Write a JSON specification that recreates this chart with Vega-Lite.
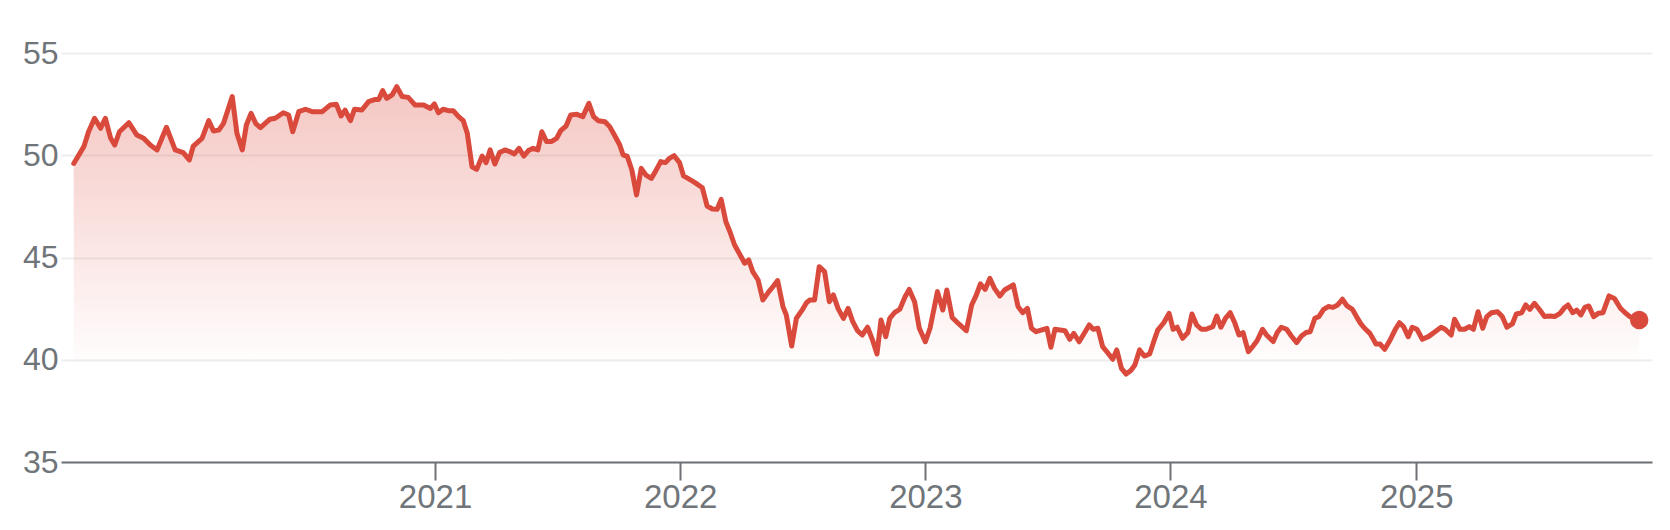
{
  "$schema": "https://vega.github.io/schema/vega-lite/v6.json",
  "width": 1591,
  "height": 409,
  "autosize": {"type": "none"},
  "padding": {"left": 61, "top": 53, "right": 18, "bottom": 68},
  "background": "white",
  "config": {
    "view": {"stroke": null},
    "axis": {"labelFont": "Liberation Sans, Arial, sans-serif", "labelFontSize": 32, "labelColor": "#70757a"}
  },
  "data": {
    "values": [
      {"date": "2019-07-13", "price": 49.6},
      {"date": "2019-07-28", "price": 50.42},
      {"date": "2019-08-04", "price": 51.15},
      {"date": "2019-08-13", "price": 51.81},
      {"date": "2019-08-22", "price": 51.32},
      {"date": "2019-08-29", "price": 51.81},
      {"date": "2019-09-06", "price": 50.83},
      {"date": "2019-09-12", "price": 50.5},
      {"date": "2019-09-19", "price": 51.15},
      {"date": "2019-10-03", "price": 51.59},
      {"date": "2019-10-15", "price": 50.99},
      {"date": "2019-10-25", "price": 50.83},
      {"date": "2019-11-04", "price": 50.5},
      {"date": "2019-11-14", "price": 50.26},
      {"date": "2019-11-28", "price": 51.37},
      {"date": "2019-12-11", "price": 50.26},
      {"date": "2019-12-23", "price": 50.13},
      {"date": "2020-01-01", "price": 49.77},
      {"date": "2020-01-07", "price": 50.45},
      {"date": "2020-01-20", "price": 50.83},
      {"date": "2020-01-30", "price": 51.69},
      {"date": "2020-02-06", "price": 51.19},
      {"date": "2020-02-14", "price": 51.23},
      {"date": "2020-02-21", "price": 51.56},
      {"date": "2020-03-05", "price": 52.87},
      {"date": "2020-03-12", "price": 51.07},
      {"date": "2020-03-20", "price": 50.26},
      {"date": "2020-03-26", "price": 51.48},
      {"date": "2020-04-02", "price": 52.05},
      {"date": "2020-04-09", "price": 51.55},
      {"date": "2020-04-16", "price": 51.35},
      {"date": "2020-04-23", "price": 51.56},
      {"date": "2020-04-30", "price": 51.76},
      {"date": "2020-05-08", "price": 51.81},
      {"date": "2020-05-20", "price": 52.08},
      {"date": "2020-05-28", "price": 51.97},
      {"date": "2020-06-03", "price": 51.15},
      {"date": "2020-06-12", "price": 52.13},
      {"date": "2020-06-22", "price": 52.25},
      {"date": "2020-07-02", "price": 52.13},
      {"date": "2020-07-17", "price": 52.13},
      {"date": "2020-07-29", "price": 52.46},
      {"date": "2020-08-07", "price": 52.49},
      {"date": "2020-08-14", "price": 51.92},
      {"date": "2020-08-20", "price": 52.21},
      {"date": "2020-08-28", "price": 51.69},
      {"date": "2020-09-03", "price": 52.25},
      {"date": "2020-09-14", "price": 52.21},
      {"date": "2020-09-24", "price": 52.62},
      {"date": "2020-10-04", "price": 52.73},
      {"date": "2020-10-09", "price": 52.73},
      {"date": "2020-10-15", "price": 53.16},
      {"date": "2020-10-21", "price": 52.78},
      {"date": "2020-10-29", "price": 52.95},
      {"date": "2020-11-05", "price": 53.35},
      {"date": "2020-11-13", "price": 52.87},
      {"date": "2020-11-22", "price": 52.83},
      {"date": "2020-12-02", "price": 52.46},
      {"date": "2020-12-15", "price": 52.46},
      {"date": "2020-12-25", "price": 52.29},
      {"date": "2020-12-31", "price": 52.51},
      {"date": "2021-01-06", "price": 52.08},
      {"date": "2021-01-13", "price": 52.25},
      {"date": "2021-01-21", "price": 52.18},
      {"date": "2021-01-28", "price": 52.18},
      {"date": "2021-02-05", "price": 51.89},
      {"date": "2021-02-12", "price": 51.69},
      {"date": "2021-02-18", "price": 51.07},
      {"date": "2021-02-25", "price": 49.44},
      {"date": "2021-03-04", "price": 49.31},
      {"date": "2021-03-12", "price": 49.96},
      {"date": "2021-03-18", "price": 49.64},
      {"date": "2021-03-24", "price": 50.26},
      {"date": "2021-03-31", "price": 49.57},
      {"date": "2021-04-07", "price": 50.13},
      {"date": "2021-04-15", "price": 50.26},
      {"date": "2021-04-22", "price": 50.18},
      {"date": "2021-04-29", "price": 50.06},
      {"date": "2021-05-06", "price": 50.34},
      {"date": "2021-05-13", "price": 49.96},
      {"date": "2021-05-20", "price": 50.23},
      {"date": "2021-05-27", "price": 50.34},
      {"date": "2021-06-03", "price": 50.26},
      {"date": "2021-06-09", "price": 51.15},
      {"date": "2021-06-16", "price": 50.67},
      {"date": "2021-06-23", "price": 50.67},
      {"date": "2021-07-01", "price": 50.83},
      {"date": "2021-07-07", "price": 51.2},
      {"date": "2021-07-15", "price": 51.43},
      {"date": "2021-07-22", "price": 51.97},
      {"date": "2021-07-31", "price": 52.0},
      {"date": "2021-08-09", "price": 51.89},
      {"date": "2021-08-18", "price": 52.54},
      {"date": "2021-08-25", "price": 51.89},
      {"date": "2021-09-01", "price": 51.69},
      {"date": "2021-09-11", "price": 51.64},
      {"date": "2021-09-18", "price": 51.4},
      {"date": "2021-09-25", "price": 50.99},
      {"date": "2021-10-03", "price": 50.5},
      {"date": "2021-10-08", "price": 50.01},
      {"date": "2021-10-14", "price": 49.96},
      {"date": "2021-10-21", "price": 49.28},
      {"date": "2021-10-28", "price": 48.06},
      {"date": "2021-11-04", "price": 49.36},
      {"date": "2021-11-11", "price": 49.03},
      {"date": "2021-11-19", "price": 48.87},
      {"date": "2021-11-25", "price": 49.2},
      {"date": "2021-12-03", "price": 49.69},
      {"date": "2021-12-10", "price": 49.64},
      {"date": "2021-12-16", "price": 49.85},
      {"date": "2021-12-23", "price": 49.98},
      {"date": "2021-12-31", "price": 49.64},
      {"date": "2022-01-06", "price": 48.99},
      {"date": "2022-01-15", "price": 48.82},
      {"date": "2022-01-23", "price": 48.66},
      {"date": "2022-02-03", "price": 48.41},
      {"date": "2022-02-10", "price": 47.52},
      {"date": "2022-02-18", "price": 47.37},
      {"date": "2022-02-25", "price": 47.36},
      {"date": "2022-03-03", "price": 47.84},
      {"date": "2022-03-10", "price": 46.75},
      {"date": "2022-03-16", "price": 46.26},
      {"date": "2022-03-23", "price": 45.61},
      {"date": "2022-03-30", "price": 45.2},
      {"date": "2022-04-07", "price": 44.72},
      {"date": "2022-04-13", "price": 44.88},
      {"date": "2022-04-19", "price": 44.31},
      {"date": "2022-04-27", "price": 43.9},
      {"date": "2022-05-04", "price": 42.92},
      {"date": "2022-05-13", "price": 43.33},
      {"date": "2022-05-19", "price": 43.57},
      {"date": "2022-05-26", "price": 43.87},
      {"date": "2022-06-03", "price": 42.6},
      {"date": "2022-06-08", "price": 42.19},
      {"date": "2022-06-16", "price": 40.67},
      {"date": "2022-06-23", "price": 42.03},
      {"date": "2022-07-01", "price": 42.4},
      {"date": "2022-07-08", "price": 42.79},
      {"date": "2022-07-13", "price": 42.92},
      {"date": "2022-07-20", "price": 42.92},
      {"date": "2022-07-27", "price": 44.55},
      {"date": "2022-08-04", "price": 44.31},
      {"date": "2022-08-11", "price": 42.84},
      {"date": "2022-08-17", "price": 43.17},
      {"date": "2022-08-24", "price": 42.51},
      {"date": "2022-09-01", "price": 42.02},
      {"date": "2022-09-08", "price": 42.51},
      {"date": "2022-09-15", "price": 41.86},
      {"date": "2022-09-22", "price": 41.42},
      {"date": "2022-09-29", "price": 41.21},
      {"date": "2022-10-07", "price": 41.59},
      {"date": "2022-10-14", "price": 41.0},
      {"date": "2022-10-21", "price": 40.28},
      {"date": "2022-10-27", "price": 41.94},
      {"date": "2022-11-03", "price": 41.13},
      {"date": "2022-11-09", "price": 42.02},
      {"date": "2022-11-16", "price": 42.3},
      {"date": "2022-11-24", "price": 42.47},
      {"date": "2022-12-02", "price": 43.09},
      {"date": "2022-12-08", "price": 43.44},
      {"date": "2022-12-16", "price": 42.84},
      {"date": "2022-12-23", "price": 41.54},
      {"date": "2023-01-01", "price": 40.88},
      {"date": "2023-01-08", "price": 41.54},
      {"date": "2023-01-19", "price": 43.33},
      {"date": "2023-01-27", "price": 42.43},
      {"date": "2023-02-02", "price": 43.41},
      {"date": "2023-02-10", "price": 42.07},
      {"date": "2023-02-18", "price": 41.81},
      {"date": "2023-03-03", "price": 41.42},
      {"date": "2023-03-11", "price": 42.68},
      {"date": "2023-03-18", "price": 43.17},
      {"date": "2023-03-24", "price": 43.71},
      {"date": "2023-03-31", "price": 43.44},
      {"date": "2023-04-07", "price": 43.98},
      {"date": "2023-04-14", "price": 43.49},
      {"date": "2023-04-22", "price": 43.12},
      {"date": "2023-04-29", "price": 43.41},
      {"date": "2023-05-12", "price": 43.66},
      {"date": "2023-05-19", "price": 42.6},
      {"date": "2023-05-26", "price": 42.3},
      {"date": "2023-06-02", "price": 42.51},
      {"date": "2023-06-08", "price": 41.54},
      {"date": "2023-06-15", "price": 41.37},
      {"date": "2023-07-01", "price": 41.54},
      {"date": "2023-07-07", "price": 40.61},
      {"date": "2023-07-13", "price": 41.49},
      {"date": "2023-07-28", "price": 41.42},
      {"date": "2023-08-04", "price": 41.0},
      {"date": "2023-08-10", "price": 41.29},
      {"date": "2023-08-18", "price": 40.88},
      {"date": "2023-08-25", "price": 41.26},
      {"date": "2023-09-02", "price": 41.7},
      {"date": "2023-09-08", "price": 41.49},
      {"date": "2023-09-15", "price": 41.54},
      {"date": "2023-09-22", "price": 40.64},
      {"date": "2023-10-01", "price": 40.28},
      {"date": "2023-10-07", "price": 40.02},
      {"date": "2023-10-13", "price": 40.48},
      {"date": "2023-10-20", "price": 39.58},
      {"date": "2023-10-27", "price": 39.3},
      {"date": "2023-11-03", "price": 39.47},
      {"date": "2023-11-09", "price": 39.74},
      {"date": "2023-11-16", "price": 40.48},
      {"date": "2023-11-23", "price": 40.18},
      {"date": "2023-12-01", "price": 40.28},
      {"date": "2023-12-07", "price": 40.88},
      {"date": "2023-12-13", "price": 41.45},
      {"date": "2023-12-22", "price": 41.81},
      {"date": "2023-12-30", "price": 42.27},
      {"date": "2024-01-05", "price": 41.49},
      {"date": "2024-01-11", "price": 41.59},
      {"date": "2024-01-19", "price": 41.05},
      {"date": "2024-01-27", "price": 41.33},
      {"date": "2024-02-02", "price": 42.24},
      {"date": "2024-02-09", "price": 41.7},
      {"date": "2024-02-16", "price": 41.49},
      {"date": "2024-02-23", "price": 41.49},
      {"date": "2024-03-04", "price": 41.62},
      {"date": "2024-03-10", "price": 42.14},
      {"date": "2024-03-16", "price": 41.59},
      {"date": "2024-03-23", "price": 42.03},
      {"date": "2024-03-30", "price": 42.3},
      {"date": "2024-04-06", "price": 41.78},
      {"date": "2024-04-12", "price": 41.21},
      {"date": "2024-04-18", "price": 41.33},
      {"date": "2024-04-26", "price": 40.4},
      {"date": "2024-05-03", "price": 40.67},
      {"date": "2024-05-09", "price": 40.93},
      {"date": "2024-05-17", "price": 41.49},
      {"date": "2024-05-23", "price": 41.21},
      {"date": "2024-06-02", "price": 40.89},
      {"date": "2024-06-08", "price": 41.33},
      {"date": "2024-06-14", "price": 41.59},
      {"date": "2024-06-22", "price": 41.49},
      {"date": "2024-06-29", "price": 41.16},
      {"date": "2024-07-07", "price": 40.84},
      {"date": "2024-07-14", "price": 41.16},
      {"date": "2024-07-21", "price": 41.33},
      {"date": "2024-07-27", "price": 41.37},
      {"date": "2024-08-03", "price": 42.03},
      {"date": "2024-08-09", "price": 42.11},
      {"date": "2024-08-16", "price": 42.46},
      {"date": "2024-08-23", "price": 42.6},
      {"date": "2024-08-30", "price": 42.56},
      {"date": "2024-09-06", "price": 42.68},
      {"date": "2024-09-13", "price": 42.96},
      {"date": "2024-09-20", "price": 42.63},
      {"date": "2024-09-28", "price": 42.46},
      {"date": "2024-10-04", "price": 42.11},
      {"date": "2024-10-10", "price": 41.78},
      {"date": "2024-10-16", "price": 41.54},
      {"date": "2024-10-24", "price": 41.29},
      {"date": "2024-11-02", "price": 40.77},
      {"date": "2024-11-08", "price": 40.77},
      {"date": "2024-11-15", "price": 40.51},
      {"date": "2024-11-22", "price": 40.9},
      {"date": "2024-12-01", "price": 41.5},
      {"date": "2024-12-07", "price": 41.81},
      {"date": "2024-12-13", "price": 41.62},
      {"date": "2024-12-20", "price": 41.13},
      {"date": "2024-12-26", "price": 41.59},
      {"date": "2025-01-02", "price": 41.49},
      {"date": "2025-01-10", "price": 41.0},
      {"date": "2025-01-19", "price": 41.13},
      {"date": "2025-01-29", "price": 41.37},
      {"date": "2025-02-07", "price": 41.59},
      {"date": "2025-02-13", "price": 41.49},
      {"date": "2025-02-22", "price": 41.21},
      {"date": "2025-02-27", "price": 41.98},
      {"date": "2025-03-07", "price": 41.49},
      {"date": "2025-03-14", "price": 41.49},
      {"date": "2025-03-21", "price": 41.62},
      {"date": "2025-03-27", "price": 41.49},
      {"date": "2025-04-03", "price": 42.35},
      {"date": "2025-04-10", "price": 41.54},
      {"date": "2025-04-16", "price": 42.11},
      {"date": "2025-04-23", "price": 42.3},
      {"date": "2025-05-02", "price": 42.35},
      {"date": "2025-05-09", "price": 42.11},
      {"date": "2025-05-16", "price": 41.59},
      {"date": "2025-05-24", "price": 41.75},
      {"date": "2025-05-30", "price": 42.24},
      {"date": "2025-06-07", "price": 42.3},
      {"date": "2025-06-13", "price": 42.68},
      {"date": "2025-06-19", "price": 42.46},
      {"date": "2025-06-26", "price": 42.76},
      {"date": "2025-07-04", "price": 42.43},
      {"date": "2025-07-11", "price": 42.11},
      {"date": "2025-07-19", "price": 42.14},
      {"date": "2025-07-26", "price": 42.11},
      {"date": "2025-08-03", "price": 42.27},
      {"date": "2025-08-10", "price": 42.56},
      {"date": "2025-08-15", "price": 42.68},
      {"date": "2025-08-22", "price": 42.3},
      {"date": "2025-08-28", "price": 42.43},
      {"date": "2025-09-03", "price": 42.19},
      {"date": "2025-09-09", "price": 42.56},
      {"date": "2025-09-15", "price": 42.63},
      {"date": "2025-09-22", "price": 42.11},
      {"date": "2025-09-29", "price": 42.27},
      {"date": "2025-10-06", "price": 42.3},
      {"date": "2025-10-15", "price": 43.12},
      {"date": "2025-10-23", "price": 43.0},
      {"date": "2025-11-01", "price": 42.52},
      {"date": "2025-11-08", "price": 42.3},
      {"date": "2025-11-15", "price": 42.11},
      {"date": "2025-11-29", "price": 41.94}
    ]
  },
  "encoding": {
    "x": {
      "field": "date",
      "type": "temporal",
      "scale": {
        "type": "utc",
        "domain": [
          {"year": 2019, "month": 6, "date": 24, "utc": true},
          {"year": 2025, "month": 12, "date": 18, "utc": true}
        ]
      },
      "axis": {
        "title": null,
        "grid": false,
        "format": "%Y",
        "values": [
          {"year": 2021, "month": 1, "date": 1, "utc": true},
          {"year": 2022, "month": 1, "date": 1, "utc": true},
          {"year": 2023, "month": 1, "date": 1, "utc": true},
          {"year": 2024, "month": 1, "date": 1, "utc": true},
          {"year": 2025, "month": 1, "date": 1, "utc": true}
        ],
        "domain": true,
        "domainColor": "#6e7175",
        "domainWidth": 2,
        "ticks": true,
        "tickColor": "#6e7175",
        "tickWidth": 2,
        "tickSize": 18,
        "labelPadding": 1,
        "labelFontSize": 33,
        "labelColor": "#70757a"
      }
    },
    "y": {
      "field": "price",
      "type": "quantitative",
      "scale": {"domain": [35, 55], "nice": false, "zero": false},
      "axis": {
        "title": null,
        "values": [35, 40, 45, 50, 55],
        "format": "d",
        "grid": true,
        "gridColor": "#eeeeee",
        "gridWidth": 2,
        "domain": false,
        "ticks": false,
        "labelPadding": 3,
        "labelFontSize": 32,
        "labelColor": "#70757a"
      }
    }
  },
  "layer": [
    {
      "mark": {
        "type": "area",
        "color": {
          "gradient": "linear",
          "x1": 0, "y1": 0, "x2": 0, "y2": 1,
          "stops": [
            {"offset": 0, "color": "rgba(219,68,55,0.30)"},
            {"offset": 0.76, "color": "rgba(219,68,55,0)"},
            {"offset": 1, "color": "rgba(219,68,55,0)"}
          ]
        }
      },
      "encoding": {"y2": {"datum": 35}}
    },
    {
      "mark": {"type": "line", "color": "#d94a3c", "strokeWidth": 5, "strokeJoin": "round", "strokeCap": "round"}
    },
    {
      "transform": [
        {"window": [{"op": "row_number", "as": "rn"}], "sort": [{"field": "date", "order": "descending"}]},
        {"filter": "datum.rn == 1"}
      ],
      "mark": {"type": "point", "filled": true, "size": 340, "color": "#d94a3c", "opacity": 1}
    }
  ]
}
